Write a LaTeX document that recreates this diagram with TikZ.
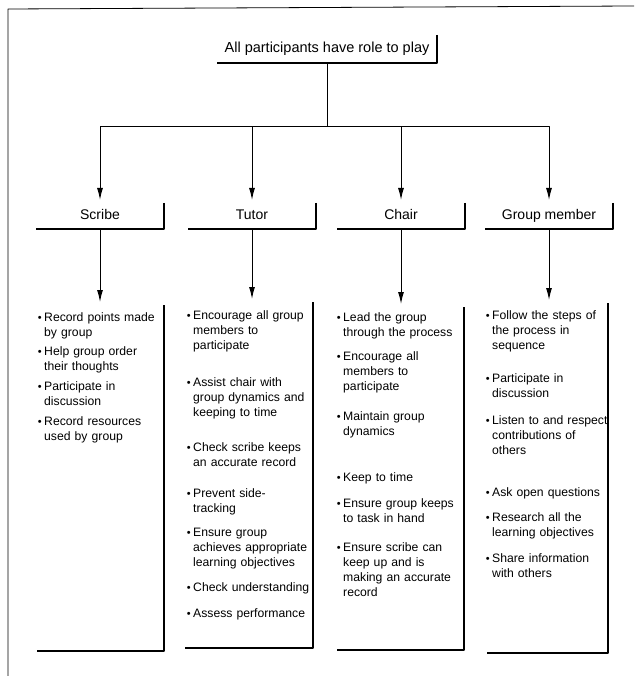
\documentclass[tikz,border=0pt]{standalone}
\usepackage{fontspec}
\setmainfont{Liberation Sans}
\usetikzlibrary{arrows.meta}

\newcommand{\itembullet}{\leavevmode\llap{{\fontsize{11}{11}\selectfont\textbullet}\hspace{2.5pt}}}

\begin{document}
\begin{tikzpicture}[x=1pt, y=-1pt, line join=round,
  titlebox/.style={minimum width=220pt, minimum height=28pt, inner sep=0pt,
    outer sep=0pt, font=\fontsize{14.5}{17}\selectfont},
  rolebox/.style={minimum width=128pt, minimum height=26pt, inner sep=0pt,
    outer sep=0pt, text height=10pt, text depth=3pt,
    font=\fontsize{14}{16}\selectfont},
  listbox/.style={minimum width=127pt, minimum height=346pt, inner sep=0pt,
    outer sep=0pt},
  item/.style={anchor=base west, text width=125pt, align=left, inner sep=0pt,
    font=\fontsize{12.2}{15}\selectfont},
  bracket/.style={line width=1.3pt},
  arrow/.style={line width=1pt, -{Latex[length=12pt, width=6pt]}, shorten >=3pt}]

  \useasboundingbox (0,0) rectangle (634,676);

  % frame
  \draw [line width=0.8pt] (8,676) -- (8,9) -- (634,6);

  % boxes
  \node [titlebox] (top) at (327,49) {All participants have role to play};

  \node [rolebox] (scribe) at (100,216) {Scribe};
  \node [rolebox] (tutor)  at (252,216) {Tutor};
  \node [rolebox] (chair)  at (401,216) {Chair};
  \node [rolebox] (member) at (549,216) {Group member};

  \node [listbox] (scribe-list) at (100.5,478) {};
  \node [listbox, minimum width=128pt] (tutor-list) at (249,475) {};
  \node [listbox, minimum height=343pt] (chair-list) at (400.5,478.5) {};
  \node [listbox, minimum width=121pt, minimum height=350pt] (member-list) at (547.5,478) {};

  \foreach \n in {top,scribe,tutor,chair,member,scribe-list,tutor-list,chair-list,member-list}
    \draw [bracket] (\n.north east) -- (\n.south east) -- (\n.south west);

  % connectors
  \draw [line width=1pt] (top.south) -- ++(0,64) coordinate (fan);
  \foreach \n in {scribe,tutor,chair,member}{%
    \draw [arrow] (fan) -| (\n.north);
    \draw [arrow] (\n.south) -- (\n.south |- \n-list.north);
  }

  % lists
  \foreach \y/\txt [count=\i] in {
      317/{Record points made\\by group},
      351/{Help group order\\their thoughts},
      386/{Participate in\\discussion},
      421/{Record resources\\used by group}}
    \node [item] (scribe-\i) at (44,\y+4) {\itembullet\txt};

  \foreach \y/\txt [count=\i] in {
      315/{Encourage all group\\members to\\participate},
      382/{Assist chair with\\group dynamics and\\keeping to time},
      447/{Check scribe keeps\\an accurate record},
      493/{Prevent side-\\tracking},
      532/{Ensure group\\achieves appropriate\\learning objectives},
      587/{Check understanding},
      613/{Assess performance}}
    \node [item] (tutor-\i) at (193,\y+4) {\itembullet\txt};

  \foreach \y/\txt [count=\i] in {
      317/{Lead the group\\through the process},
      356/{Encourage all\\members to\\participate},
      416/{Maintain group\\dynamics},
      477/{Keep to time},
      503/{Ensure group keeps\\to task in hand},
      547/{Ensure scribe can\\keep up and is\\making an accurate\\record}}
    \node [item] (chair-\i) at (343,\y+4) {\itembullet\txt};

  \foreach \y/\txt [count=\i] in {
      315/{Follow the steps of\\the process in\\sequence},
      378/{Participate in\\discussion},
      420/{Listen to and respect\\contributions of\\others},
      492/{Ask open questions},
      517/{Research all the\\learning objectives},
      558/{Share information\\with others}}
    \node [item] (member-\i) at (492,\y+4) {\itembullet\txt};

\end{tikzpicture}
\end{document}
